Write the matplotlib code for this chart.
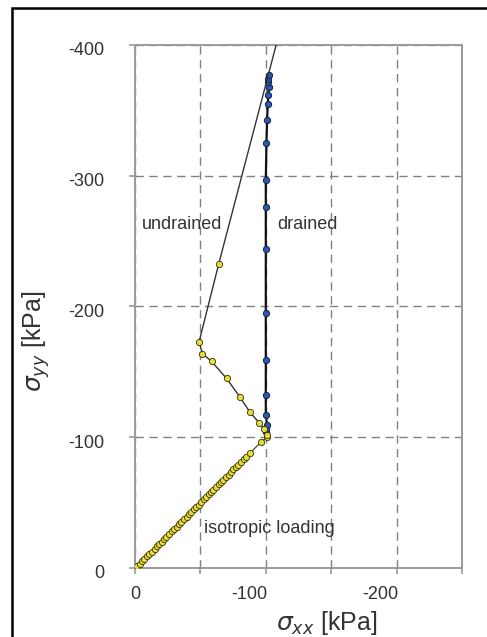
import matplotlib
matplotlib.use('Agg')
import matplotlib.pyplot as plt
import matplotlib.transforms as mtransforms
from matplotlib.patches import Rectangle

# isotropic loading path (sigma_xx, sigma_yy) in kPa
iso_x = [0, -1.5, -3.5, -5.5, -7, -9, -11, -13, -15, -16.5, -18.5, -20.5, -22.5, -24, -26,
         -28, -30, -32, -33.5, -35.5, -37.5, -39.5, -41, -43, -45, -47, -49, -50.5, -52.5,
         -54.5, -56.5, -58, -60, -62, -64, -66, -67.5, -69.5, -71.5, -73.5, -75, -77, -79,
         -81, -83, -85, -88, -96.5, -101]
iso_y = [0, -1.5, -3, -5, -7, -9, -10.5, -12.5, -14.5, -16.5, -18.5, -20, -22, -24, -26,
         -28, -29.5, -31.5, -33.5, -35.5, -37.5, -39, -41, -43, -45, -47, -48.5, -50.5,
         -52.5, -54.5, -56.5, -58, -60, -62, -64, -66, -67.5, -69.5, -71.5, -73.5, -75.5,
         -77, -79, -81, -83, -85, -88, -96.5, -100]

# undrained path (last point lies outside the axes, line only)
ud_x = [-101, -99, -95, -88, -80, -70, -58.5, -51.5, -49, -64, -110]
ud_y = [-102, -106, -111, -119, -131, -145, -158, -164, -173, -232.5, -408]

# drained path
dr_x = [-100, -100.5, -101, -100, -100, -100, -100, -100, -100, -100, -100.5, -101,
        -101.5, -102, -102.3, -101.5, -101.5, -102.3]
dr_y = [-104, -106, -109, -117, -132, -159, -195, -244, -276, -297, -325, -343,
        -355, -362, -368, -371.5, -374, -377]

xticks = [0, -50, -100, -150, -200, -250]
xlabels = ['0', '', '-100', '', '-200', '']
yticks = [0, -100, -200, -300, -400]

fig = plt.figure(figsize=(4.87, 6.37), dpi=100)
ax = fig.add_axes([135 / 487, 1 - 568 / 637, 327 / 487, 523 / 637])

# outer frame of the original figure
fig.patches.append(Rectangle((12 / 487, -0.1), 1.2, 1.1 - 8 / 637, transform=fig.transFigure,
                             fill=False, ec='black', lw=1.8))

ax.plot(iso_x, iso_y, '-', color='#333333', lw=0.8, marker='o', ms=4.5,
        mfc='#e6dc3c', mec='#333300', mew=0.6, zorder=4)
ax.plot(ud_x, ud_y, '-', color='#333333', lw=1.0, marker='o', ms=4.5,
        mfc='#e6dc3c', mec='#333300', mew=0.6, markevery=list(range(len(ud_x) - 1)), zorder=4)
ax.plot(dr_x, dr_y, '-', color='#111111', lw=1.6, marker='o', ms=4.5,
        mfc='#2a5aa8', mec='#10204a', mew=0.7, zorder=3)

ax.set_xlim(0, -250)
ax.set_ylim(0, -400)
ax.set_xticks(xticks)
ax.set_yticks(yticks)
ax.set_xticklabels([])
ax.set_yticklabels([])
ax.tick_params(direction='out', length=4, color='#999999', width=1.2)
ax.grid(True, color='#808080', ls=(0, (6, 4)), lw=1.0)
for s in ax.spines.values():
    s.set_color('#9a9a9a')
    s.set_linewidth(1.4)

txt = dict(fontsize=13, color='#333333', family='Liberation Sans')

# tick labels
ytr = mtransforms.blended_transform_factory(ax.transAxes, ax.transData) + \
    mtransforms.ScaledTranslation(0, -6 / 100, fig.dpi_scale_trans)
for v in yticks:
    ax.text(-0.095, v, str(v), transform=ytr, ha='right', va='center', **txt)
xtr = mtransforms.blended_transform_factory(ax.transData, ax.transAxes)
for v, lab in zip(xticks, xlabels):
    if lab:
        ax.text(v - 1.5 if v else v, -0.035, lab, transform=xtr,
                ha='right' if v else 'center', va='top', **txt)

ax.text(-67, -263, 'undrained', ha='right', va='center', **txt)
ax.text(-109, -263, 'drained', ha='left', va='center', **txt)
ax.text(-53, -30, 'isotropic loading', ha='left', va='center', **txt)

ax.set_xlabel(r'$\sigma_{xx}$ [kPa]', fontsize=18, color='#333333', family='Liberation Sans')
ax.set_ylabel(r'$\sigma_{yy}$ [kPa]', fontsize=18, color='#333333', family='Liberation Sans')
ax.xaxis.set_label_coords(0.587, -0.078)
ax.yaxis.set_label_coords(-0.255, 0.434)

plt.savefig('out.png', dpi=100)
